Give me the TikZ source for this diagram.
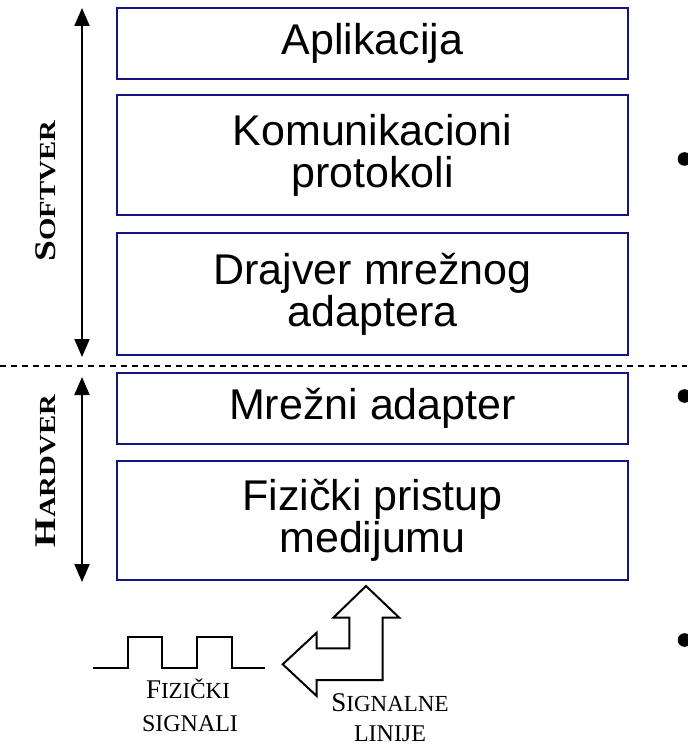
\documentclass[tikz,border=0pt]{standalone}
\usepackage{fontspec}
\setmainfont{Liberation Serif}
\newfontfamily\layerfont{Liberation Sans}
\usepackage{tikz}
\usetikzlibrary{arrows.meta}
\definecolor{layerblue}{RGB}{20,20,130}

\newcommand{\sidesc}[2]{{\fontsize{15}{15}\selectfont #1}{\fontsize{11.5}{11.5}\selectfont #2}}
\newcommand{\capsc}[2]{{\fontsize{13.5}{13.5}\selectfont #1}{\fontsize{11.5}{11.5}\selectfont #2}}

\begin{document}
\begin{tikzpicture}[x=0.5pt,y=-0.5pt,
  layer/.style={draw=layerblue,line width=1pt,minimum width=255.5pt,align=center,
    font=\layerfont\fontsize{21.5}{21}\selectfont},
  side/.style={rotate=90,anchor=base,inner sep=0pt,font=\bfseries},
  span/.style={line width=1pt,{Triangle[width=7.5pt,length=9pt]}-{Triangle[width=7.5pt,length=9pt]}},
  caption/.style={anchor=base,inner sep=0pt}]

\useasboundingbox (0,0) rectangle (687,748);

% slojevi
\node[layer,minimum height=35.5pt] (apl) at (372.5,43.5) {Aplikacija};
\node[layer,minimum height=60pt] (prot) at (372.5,155) {Komunikacioni\\protokoli};
\node[layer,minimum height=61pt] (drv) at (372.5,294) {Drajver mrežnog\\adaptera};
\node[layer,minimum height=35.5pt] (adp) at (372.5,408.5) {Mrežni adapter};
\node[layer,minimum height=59.5pt] (fiz) at (372.5,520.5) {Fizički pristup\\medijumu};

% softver / hardver
\coordinate (stop) at (82,8);
\coordinate (sbot) at (82,357);
\coordinate (htop) at (82,377);
\coordinate (hbot) at (82,582);
\draw[span] (stop) -- (sbot);
\draw[span] (htop) -- (hbot);
\node[side] (soft) at (55,191) {\scalebox{1.25}[1]{\sidesc{S}{OFTVER}}};
\node[side] (hard) at (55,471) {\scalebox{1.25}[1]{\sidesc{H}{ARDVER}}};

\coordinate (dl) at (0,366);
\coordinate (dr) at (687,366);
\draw[line width=1pt,dash pattern=on 3pt off 2.5pt] (dl) -- (dr);

% nabrajanje
\fill (684.5,159) circle [radius=3.4pt];
\fill (684.5,396) circle [radius=3.4pt];
\fill (684.5,640) circle [radius=3.4pt];

% signal
\draw[line width=1pt] (93,668) -- (128,668) -- (128,637) -- (162,637) -- (162,668)
  -- (197,668) -- (197,637) -- (232,637) -- (232,668) -- (265,668);
\node[caption] (fiz1) at (188,698) {\capsc{F}{IZIČKI}};
\node[caption] (fiz2) at (190,731) {\fontsize{12}{12}\selectfont SIGNALI};

% linije
\draw[line width=1pt,fill=white] (282.7,664.3) -- (316.7,632.7) -- (316.7,648.3)
  -- (349.3,648.3) -- (349.3,617.7) -- (333.3,617.7) -- (366,586) -- (399.3,617.7)
  -- (382.7,617.7) -- (382.7,680) -- (316.7,680) -- (316.7,696) -- cycle;
\node[caption] (lin1) at (390,711) {\capsc{S}{IGNALNE}};
\node[caption] (lin2) at (390,741) {\fontsize{12}{12}\selectfont LINIJE};

\end{tikzpicture}
\end{document}
